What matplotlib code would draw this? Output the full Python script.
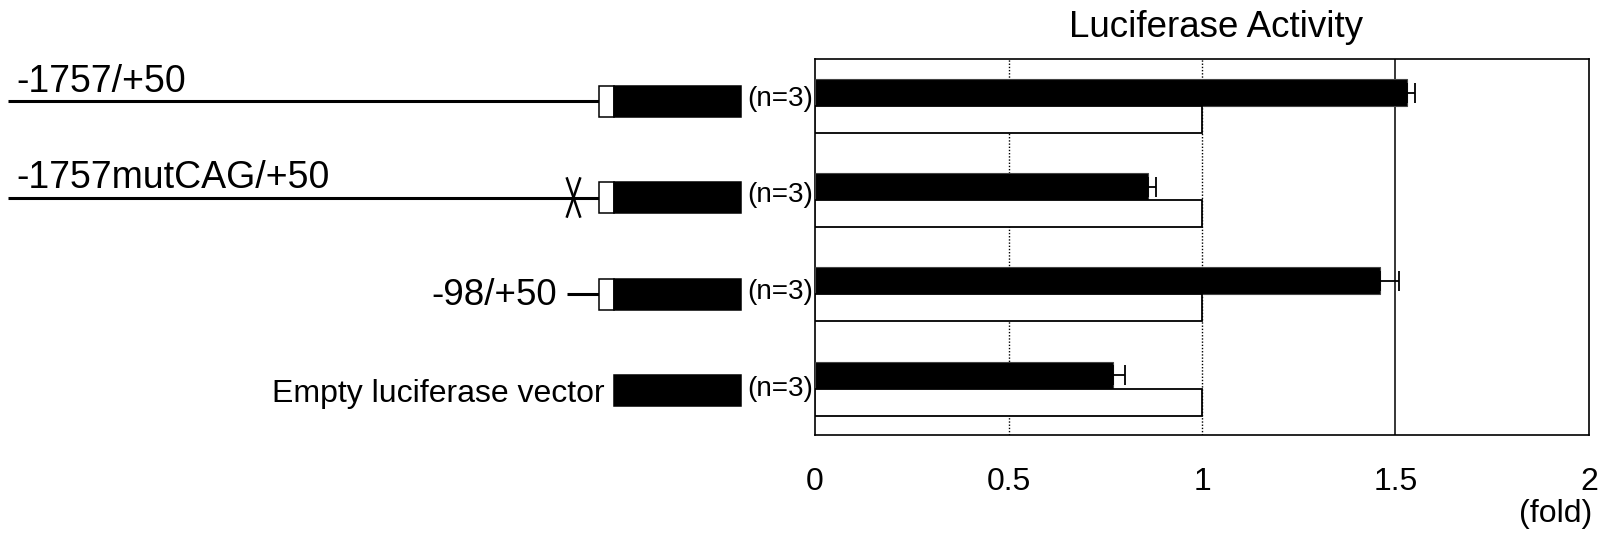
import matplotlib
matplotlib.use("Agg")
import matplotlib.pyplot as plt
from matplotlib.patches import Rectangle
import numpy as np

plt.rcParams['font.family'] = ['Liberation Sans', 'DejaVu Sans']

# ---------------- data ----------------
constructs = ["-1757/+50", "-1757mutCAG/+50", "-98/+50", "Empty luciferase vector"]
n_labels = ["(n=3)", "(n=3)", "(n=3)", "(n=3)"]
fold_values = [1.53, 0.86, 1.46, 0.77]
fold_errors = [0.02, 0.02, 0.05, 0.03]
control_values = [1.0, 1.0, 1.0, 1.0]
xticks = [0, 0.5, 1, 1.5, 2]
xtick_labels = ["0", "0.5", "1", "1.5", "2"]
has_promoter = [True, True, True, False]
long_promoter = [True, True, False, False]
mutated = [False, True, False, False]

# ---------------- figure ----------------
W, H = 1611, 538
fig = plt.figure(figsize=(W / 100, H / 100), dpi=100)

# schematic layer (pixel coordinates)
sk = fig.add_axes([0, 0, 1, 1], zorder=0)
sk.set_xlim(0, W)
sk.set_ylim(H, 0)
sk.axis('off')

row0, row_step = 101, 96.5
box_h = 31
line_start, open_l, open_r, box_r = 8, 599, 614, 741
short_start = 567
lw_line = 2.2

for i, name in enumerate(constructs):
    yc = row0 + i * row_step
    if has_promoter[i]:
        x0 = line_start if long_promoter[i] else short_start
        sk.plot([x0, open_l], [yc, yc], color='black', lw=lw_line, solid_capstyle='butt', zorder=1)
        sk.add_patch(Rectangle((open_l, yc - box_h / 2), open_r - open_l, box_h,
                               facecolor='white', edgecolor='black', lw=1.1, zorder=2))
    sk.add_patch(Rectangle((open_r, yc - box_h / 2), box_r - open_r, box_h,
                           facecolor='black', edgecolor='black', lw=1.1, zorder=2))
    if mutated[i]:
        xm = 573.5
        sk.plot([xm - 6.5, xm + 6.5], [yc - 19, yc + 19], color='black', lw=1.8, zorder=3)
        sk.plot([xm + 6.5, xm - 6.5], [yc - 19, yc + 19], color='black', lw=1.8, zorder=3)
    # labels
    if long_promoter[i]:
        sk.text(16, yc - 9, name, ha='left', va='baseline', fontsize=27)
    elif has_promoter[i]:
        sk.text(557, yc + 11, name, ha='right', va='baseline', fontsize=26.5)
    else:
        sk.text(605, yc + 11.5, name, ha='right', va='baseline', fontsize=23)
    sk.text(747, yc + 5, n_labels[i], ha='left', va='baseline', fontsize=20)

# ---------------- bar chart ----------------
ax = fig.add_axes([815 / W, 1 - 435 / H, (1589 - 815) / W, (435 - 59) / H], zorder=2)
y = np.arange(len(constructs))
off = 0.287

ax.axvline(0.5, color='black', lw=1.0, ls=(0, (1, 1.3)), zorder=1)
ax.axvline(1.0, color='black', lw=1.0, ls=(0, (1, 1.3)), zorder=1)
ax.axvline(1.5, color='black', lw=1.1, zorder=1)

ax.barh(y, fold_values, height=off, color='black', edgecolor='#444444', lw=0.8, zorder=3)
ax.barh(y + off, control_values, height=off, color='white', edgecolor='black', lw=1.3, zorder=3)
ax.errorbar(fold_values, y, xerr=[np.zeros(len(y)), fold_errors], fmt='none',
            ecolor='black', elinewidth=1.3, capsize=7, capthick=1.3, zorder=4)

ax.set_xlim(0, 2)
ax.set_ylim(3.636, -0.356)
ax.set_yticks([])
ax.set_xticks(xticks, xtick_labels, fontsize=23)
ax.tick_params(axis='x', length=0, pad=23)
for s in ax.spines.values():
    s.set_linewidth(1.2)

fig.text(1216 / W, 1 - 37 / H, "Luciferase Activity", ha='center', va='baseline', fontsize=26.5)
fig.text(1592 / W, 1 - 522 / H, "(fold)", ha='right', va='baseline', fontsize=23)

fig.savefig("out.png", dpi=100)
